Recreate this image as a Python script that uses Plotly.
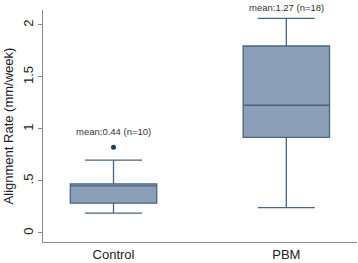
import plotly.graph_objects as go

groups = ["Control", "PBM"]
q1 = [0.286, 0.92]
median = [0.452, 1.228]
q3 = [0.471, 1.798]
lowerfence = [0.19, 0.243]
upperfence = [0.70, 2.064]
outlier_group = ["Control"]
outlier_value = [0.824]
mean_labels = ["mean:0.44 (n=10)", "mean:1.27 (n=18)"]
label_y = [0.975, 2.17]

yticks = [0, 0.5, 1, 1.5, 2]
yticklabels = ["0", ".5", "1", "1.5", "2"]

FONT = "Arial, Liberation Sans, sans-serif"
YMIN, YMAX = -0.087, 2.144

fig = go.Figure()
fig.add_trace(go.Box(
    x=groups, q1=q1, median=median, q3=q3,
    lowerfence=lowerfence, upperfence=upperfence,
    fillcolor="#8ba0b8", line=dict(color="#4a6480", width=1.3),
    width=0.5, whiskerwidth=0.66, boxpoints=False, showlegend=False,
    hoverinfo="skip",
))
fig.add_trace(go.Scatter(
    x=outlier_group, y=outlier_value, mode="markers",
    marker=dict(color="#1f3d5c", size=5), showlegend=False,
))
for g, yv, t in zip(groups, label_y, mean_labels):
    fig.add_annotation(
        x=g, y=(yv - YMIN) / (YMAX - YMIN), xref="x", yref="paper",
        text=t, showarrow=False,
        font=dict(family=FONT, size=9.5, color="#333333"),
        xanchor="center", yanchor="middle",
    )

fig.update_layout(
    width=358, height=263,
    margin=dict(l=43, r=1, t=10, b=21),
    paper_bgcolor="white", plot_bgcolor="white",
    font=dict(family=FONT, size=13, color="#222222"),
)
fig.update_xaxes(
    range=[-0.408, 1.409], showgrid=False, zeroline=False,
    showline=True, linecolor="#8a8a8a", linewidth=1,
    ticks="", tickfont=dict(size=13),
)
fig.update_yaxes(
    range=[YMIN, YMAX], showgrid=False, zeroline=False,
    showline=True, linecolor="#8a8a8a", linewidth=1,
    ticks="outside", ticklen=4, tickcolor="#8a8a8a",
    tickvals=yticks, ticktext=yticklabels, tickangle=-90,
    tickfont=dict(size=13),
    title=dict(text="Alignment Rate (mm/week)", font=dict(size=13), standoff=4),
)

fig.write_html(
    "out.html",
    config={"displayModeBar": False},
    post_script="document.body.style.margin='0';document.body.style.overflow='hidden';",
)
